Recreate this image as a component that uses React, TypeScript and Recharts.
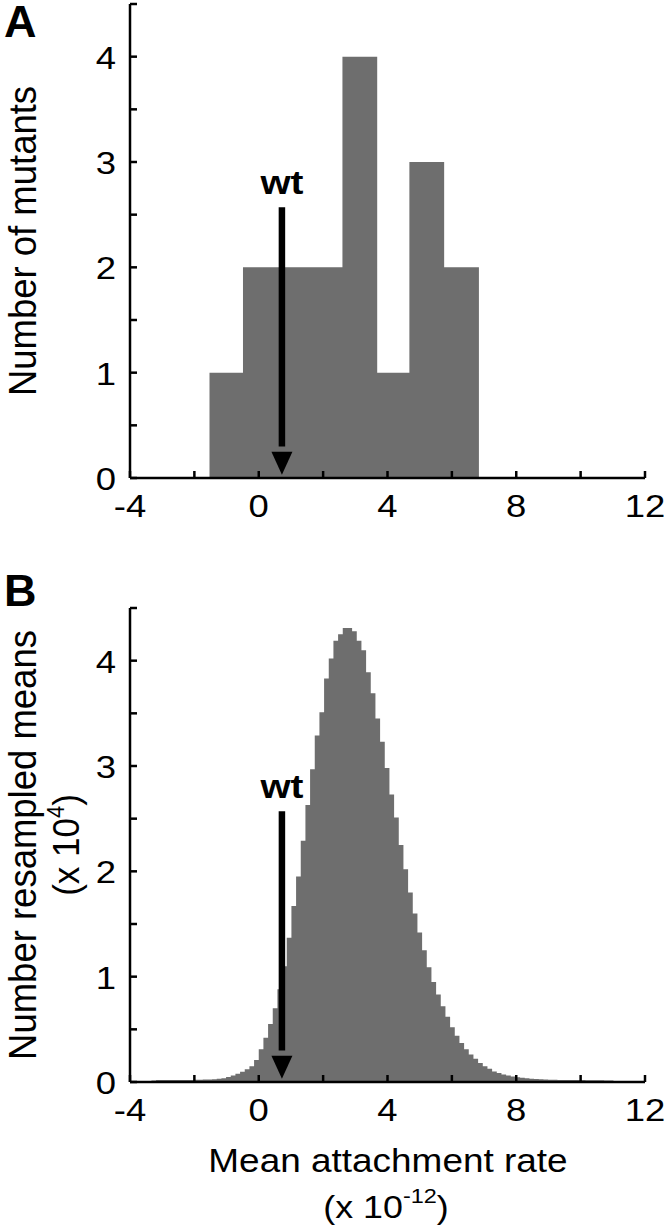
import React from 'react';
import { AreaChart, Area, XAxis, YAxis, ReferenceLine, ReferenceDot } from 'recharts';

const FONT = '"Liberation Sans", Arial, Helvetica, sans-serif';
const BAR_COLOR = '#6e6e6e';
const SX = 1.14;

// axis ticks
const xTicks = [-4, -2, 0, 2, 4, 6, 8, 10, 12];
const xTickLabels = [-4, 0, 4, 8, 12];
const yTicks = [0, 0.5, 1, 1.5, 2, 2.5, 3, 3.5, 4, 4.5];
const yTickLabels = [0, 1, 2, 3, 4];

// Panel A: histogram of mutants (bin edges + counts)
const mutantEdges = [-1.53, -0.49, 0.55, 1.58, 2.6, 3.68, 4.68, 5.76, 6.84];
const mutantCounts = [1, 2, 2, 2, 4, 1, 3, 2];

// Panel B: resampled means histogram (counts in units of 10^4)
const resampleStart = -3.335;
const resampleWidth = 0.145;
const resampleCounts = [
  0.015, 0.02, 0.018, 0.02, 0.02, 0.018, 0.02, 0.02, 0.02, 0.021,
  0.022, 0.023, 0.024, 0.026, 0.03, 0.036, 0.048, 0.062, 0.078, 0.097,
  0.12, 0.15, 0.21, 0.31, 0.42, 0.55, 0.7, 0.88, 1.1, 1.37,
  1.67, 1.95, 2.29, 2.63, 2.97, 3.29, 3.51, 3.83, 4.02, 4.19,
  4.25, 4.31, 4.31, 4.28, 4.19, 4.1, 3.89, 3.69, 3.45, 3.23,
  2.98, 2.73, 2.51, 2.25, 2.02, 1.8, 1.6, 1.42, 1.25, 1.09,
  0.95, 0.83, 0.72, 0.62, 0.52, 0.44, 0.37, 0.31, 0.26, 0.22,
  0.18, 0.15, 0.125, 0.1, 0.085, 0.072, 0.062, 0.053, 0.045, 0.04,
  0.035, 0.031, 0.028, 0.026, 0.024, 0.022, 0.021, 0.02, 0.02, 0.019,
  0.019, 0.018, 0.018, 0.017, 0.017, 0.016, 0.016, 0.015, 0.014,
];

// wild-type marker
const wtRate = 0.72;
const arrowTop = 2.57;
const arrowShaftEnd = 0.3;
const arrowTip = 0.03;
const wtLabelY = 2.7;

const mutantData = mutantCounts.map((c, i) => ({ x: mutantEdges[i], y: c }));
mutantData.push({ x: mutantEdges[mutantEdges.length - 1], y: mutantCounts[mutantCounts.length - 1] });

const resampleData = resampleCounts.map((c, i) => ({ x: resampleStart + i * resampleWidth, y: c }));
resampleData.push({
  x: resampleStart + resampleCounts.length * resampleWidth,
  y: resampleCounts[resampleCounts.length - 1],
});

const XTick = (props: any) => {
  const { x, y, payload } = props;
  const v = payload.value;
  return (
    <g>
      <line x1={x} x2={x} y1={y} y2={y - 7} stroke="#000" strokeWidth={2.5} />
      {xTickLabels.includes(v) && (
        <text
          transform={`translate(${x},${y + 39}) scale(${SX},1)`}
          textAnchor="middle"
          fontSize={32}
          fontFamily={FONT}
          fill="#000"
        >
          {v}
        </text>
      )}
    </g>
  );
};

const YTick = (props: any) => {
  const { x, y, payload } = props;
  const v = payload.value;
  return (
    <g>
      <line x1={x} x2={x + 7} y1={y} y2={y} stroke="#000" strokeWidth={2.5} />
      {yTickLabels.includes(v) && (
        <text
          transform={`translate(${x - 14},${y + 12}) scale(${SX},1)`}
          textAnchor="end"
          fontSize={32}
          fontFamily={FONT}
          fill="#000"
        >
          {v}
        </text>
      )}
    </g>
  );
};

const Arrow = (props: any) => {
  const { cx, cy } = props;
  if (cx == null || cy == null) return null;
  return <path d={`M${cx},${cy} L${cx - 10.5},${cy - 23} L${cx + 10.5},${cy - 23} Z`} fill="#000" />;
};

const WtLabel = (props: any) => {
  const { cx, cy } = props;
  if (cx == null || cy == null) return null;
  return (
    <text
      transform={`translate(${cx},${cy}) scale(${SX},1)`}
      textAnchor="middle"
      fontSize={34}
      fontWeight="bold"
      fontFamily={FONT}
      fill="#000"
    >
      wt
    </text>
  );
};

const commonSeries = (data: any[]) => (
  <Area
    type="stepAfter"
    dataKey="y"
    data={data}
    fill={BAR_COLOR}
    fillOpacity={1}
    stroke="none"
    strokeWidth={0}
    dot={false}
    activeDot={false}
    isAnimationActive={false}
  />
);

const TopYLabel = () => (
  <g>
    <text x={4} y={37} fontSize={45} fontWeight="bold" fontFamily={FONT} fill="#000">A</text>
    <text
      transform="translate(36,241) rotate(-90) scale(1,1.08)"
      textAnchor="middle"
      fontSize={36.5}
      fontFamily={FONT}
      fill="#000"
    >
      Number of mutants
    </text>
  </g>
);

const BottomYLabel = () => (
  <g>
    <text x={4} y={66} fontSize={45} fontWeight="bold" fontFamily={FONT} fill="#000">B</text>
    <text
      transform="translate(36,305) rotate(-90) scale(1,1.08)"
      textAnchor="middle"
      fontSize={36.5}
      fontFamily={FONT}
      fill="#000"
    >
      Number resampled means
    </text>
    <text
      transform="translate(79,305) rotate(-90) scale(1,1.08)"
      textAnchor="middle"
      fontSize={35}
      fontFamily={FONT}
      fill="#000"
    >
      (x 10<tspan fontSize={22} dy={-14}>4</tspan><tspan dy={14}>)</tspan>
    </text>
  </g>
);

const BottomXLabel = () => (
  <g>
    <text
      transform={`translate(388,632) scale(1.12,1)`}
      textAnchor="middle"
      fontSize={33}
      fontFamily={FONT}
      fill="#000"
    >
      Mean attachment rate
    </text>
    <text
      transform={`translate(386,678) scale(1.12,1)`}
      textAnchor="middle"
      fontSize={32}
      fontFamily={FONT}
      fill="#000"
    >
      (x 10<tspan fontSize={21} dy={-15}>-12</tspan><tspan dy={15}>)</tspan>
    </text>
  </g>
);

const axisLine = { stroke: '#000', strokeWidth: 2.5 };

function Panel(props: {
  data: any[];
  marginTop: number;
  xHeight: number;
  height: number;
  yLabel: () => React.ReactElement;
  xLabel?: () => React.ReactElement;
}) {
  const { data, marginTop, xHeight, height, yLabel, xLabel } = props;
  return (
    <AreaChart
      width={664}
      height={height}
      data={data}
      margin={{ top: marginTop, right: 19, bottom: 0, left: 0 }}
    >
      <XAxis
        type="number"
        dataKey="x"
        domain={[-4, 12]}
        ticks={xTicks}
        interval={0}
        allowDataOverflow
        tickSize={0}
        tickMargin={0}
        tickLine={false}
        axisLine={axisLine}
        tick={<XTick />}
        height={xHeight}
        label={xLabel ? { content: xLabel } : undefined}
      />
      <YAxis
        type="number"
        domain={[0, 4.5]}
        ticks={yTicks}
        interval={0}
        allowDataOverflow
        tickSize={0}
        tickMargin={0}
        tickLine={false}
        axisLine={axisLine}
        tick={<YTick />}
        width={130}
        label={{ content: yLabel }}
      />
      {commonSeries(data)}
      <ReferenceLine
        segment={[{ x: wtRate, y: arrowTop }, { x: wtRate, y: arrowShaftEnd }]}
        stroke="#000"
        strokeWidth={6.5}
        ifOverflow="visible"
      />
      <ReferenceDot x={wtRate} y={arrowTip} r={1} shape={Arrow} ifOverflow="visible" />
      <ReferenceDot x={wtRate} y={wtLabelY} r={1} shape={WtLabel} ifOverflow="visible" />
    </AreaChart>
  );
}

export default function App() {
  return (
    <div style={{ position: 'absolute', left: 0, top: 0, width: 664, height: 1229, background: '#fff' }}>
      <div style={{ position: 'absolute', left: 0, top: 0 }}>
        <Panel data={mutantData} marginTop={4} xHeight={62} height={540} yLabel={TopYLabel} />
      </div>
      <div style={{ position: 'absolute', left: 0, top: 540 }}>
        <Panel
          data={resampleData}
          marginTop={68}
          xHeight={147}
          height={689}
          yLabel={BottomYLabel}
          xLabel={BottomXLabel}
        />
      </div>
    </div>
  );
}
